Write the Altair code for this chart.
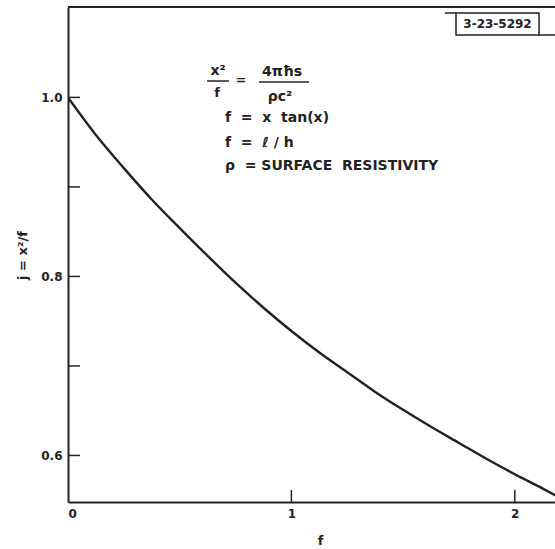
import altair as alt
import pandas as pd

# ---- data ----
f_vals = [0.0, 0.125, 0.25, 0.375, 0.5, 0.625, 0.75, 0.875, 1.0, 1.125,
          1.25, 1.375, 1.5, 1.625, 1.75, 1.875, 2.0, 2.125, 2.2]
j_vals = [1.000, 0.958, 0.921, 0.886, 0.854, 0.823, 0.793, 0.765, 0.739, 0.715,
          0.693, 0.671, 0.651, 0.632, 0.614, 0.596, 0.579, 0.563, 0.553]
y_tick_vals = [0.6, 0.7, 0.8, 0.9, 1.0]
y_label_vals = [0.6, 0.8, 1.0]
x_tick_vals = [1, 2]
x_label_vals = [0, 1, 2]
x_domain = [0, 2.18]
y_domain = [0.548, 1.101]

W, H = 487, 495
INK = "#222222"
FONT = "DejaVu Sans"
S = "\u00a0"  # non-breaking space (kept by SVG)

curve_df = pd.DataFrame({"f": f_vals, "j": j_vals})
one = pd.DataFrame({"a": [0]})

xs = alt.Scale(domain=x_domain, nice=False, zero=False)
ys = alt.Scale(domain=y_domain, nice=False, zero=False)

curve = alt.Chart(curve_df).mark_line(
    color=INK, strokeWidth=2.4, interpolate="monotone", clip=True
).encode(
    x=alt.X("f:Q", scale=xs, axis=alt.Axis(
        values=x_label_vals, format="d", ticks=False, grid=False,
        title="f", titleX=252, titleY=38, titleBaseline="middle",
        titleFont=FONT, titleFontSize=13, titleFontWeight="bold", titleColor=INK,
        labelFont=FONT, labelFontSize=12, labelFontWeight="bold", labelColor=INK,
        labelPadding=6, domainColor=INK, domainWidth=2)),
    y=alt.Y("j:Q", scale=ys, axis=alt.Axis(
        values=y_label_vals, format=".1f", ticks=False, grid=False,
        title="j = x²/f", titleX=-46, titleY=248, titleBaseline="middle",
        titleAngle=270, titleAlign="center",
        titleFont=FONT, titleFontSize=13, titleFontWeight="bold", titleColor=INK,
        labelFont=FONT, labelFontSize=12, labelFontWeight="bold", labelColor=INK,
        labelPadding=6, domainColor=INK, domainWidth=2)),
)

ytick = alt.Chart(pd.DataFrame({"v": y_tick_vals})).mark_rule(
    color=INK, strokeWidth=1.5
).encode(y=alt.Y("v:Q", scale=ys), x=alt.value(0), x2=alt.value(12))

xtick = alt.Chart(pd.DataFrame({"v": x_tick_vals})).mark_rule(
    color=INK, strokeWidth=1.5
).encode(x=alt.X("v:Q", scale=xs), y=alt.value(H), y2=alt.value(H - 12))

top_border = alt.Chart(one).mark_rule(color=INK, strokeWidth=2).encode(
    x=alt.value(0), x2=alt.value(W), y=alt.value(0))


def hline(x1, x2, y, w=1.5):
    return alt.Chart(one).mark_rule(color=INK, strokeWidth=w).encode(
        x=alt.value(x1), x2=alt.value(x2), y=alt.value(y))


def txt(s, x, y, size=13, align="center", weight="bold"):
    return alt.Chart(one).mark_text(
        text=s, font=FONT, fontSize=size, color=INK, align=align,
        baseline="middle", fontWeight=weight
    ).encode(x=alt.value(x), y=alt.value(y))


# figure number box
box = alt.Chart(one).mark_rect(fill=None, stroke=INK, strokeWidth=1.5).encode(
    x=alt.value(388), x2=alt.value(471), y=alt.value(6), y2=alt.value(28))
box_left_line = hline(377, 388, 6)
box_right_line = hline(471, W, 28)
box_text = txt("3-23-5292", 429.5, 17, size=12)

# formula block (chart coordinates)
formula = [
    txt("x²", 150, 64, size=14),
    hline(139, 161, 74),
    txt("f", 149, 86, size=13),
    txt("=", 173, 73, size=13),
    txt("4πħs", 214, 65, size=14),
    hline(191, 241, 75),
    txt("ρc²", 212, 90, size=14),
    txt(f"f{S}{S}={S}{S}x{S}{S}tan(x)", 157, 111, size=14, align="left"),
    txt(f"f{S}{S}={S}{S}ℓ{S}/{S}h", 157, 136, size=14, align="left"),
    txt(f"ρ{S}{S}={S}SURFACE{S}{S}RESISTIVITY", 157, 159, size=14, align="left"),
]

chart = alt.layer(
    top_border, ytick, xtick, curve, box, box_left_line, box_right_line, box_text,
    *formula
).properties(
    width=W, height=H,
    autosize=alt.AutoSizeParams(type="none"),
    padding={"left": 68, "top": 7, "right": 0, "bottom": 47},
    background="white",
).configure_view(stroke=None)

chart.save("out.html", embed_options={"renderer": "svg", "actions": False})
